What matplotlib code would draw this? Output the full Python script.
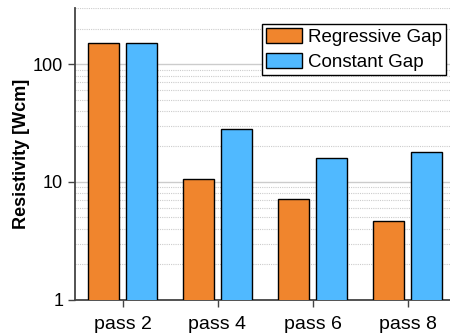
import numpy as np
import matplotlib
matplotlib.use("Agg")
import matplotlib.pyplot as plt
from matplotlib.ticker import LogLocator, NullFormatter

plt.rcParams['font.family'] = ['Liberation Sans', 'DejaVu Sans']

passes = ["pass 2", "pass 4", "pass 6", "pass 8"]
regressive = [152, 10.6, 7.1, 4.7]
constant = [150, 28.4, 15.9, 17.8]

orange = "#F0852D"
blue = "#50B9FF"

fig = plt.figure(figsize=(4.5, 3.36), dpi=100)
ax = fig.add_axes([75 / 450, 1 - 299.7 / 336, 380 / 450, 291.7 / 336])

x = np.arange(len(passes))
w = 0.32
ax.bar(x - 0.2, regressive, w, color=orange, edgecolor="black", linewidth=1,
       label="Regressive Gap", zorder=3)
ax.bar(x + 0.2, constant, w, color=blue, edgecolor="black", linewidth=1,
       label="Constant Gap", zorder=3)

ax.set_yscale("log")
ax.set_ylim(1, 300)
ax.set_xlim(-0.5, 3.5)
ax.set_xticks(x)
ax.set_xticklabels(passes, fontsize=14)
ax.set_yticks([1, 10, 100])
ax.set_yticklabels(["1", "10", "100"], fontsize=13)
ax.yaxis.set_minor_locator(LogLocator(base=10, subs=np.arange(2, 10)))
ax.yaxis.set_minor_formatter(NullFormatter())

ax.grid(axis="y", which="major", color="#cccccc", linewidth=1, zorder=0)
ax.grid(axis="y", which="minor", color="#cccccc", linewidth=0.8,
        linestyle=(0, (1, 1)), zorder=0)

for s in ["top", "right"]:
    ax.spines[s].set_visible(False)
for s in ["left", "bottom"]:
    ax.spines[s].set_color("#444444")
    ax.spines[s].set_linewidth(1.3)
ax.tick_params(axis="both", which="major", length=5, width=1, color="#444444")
ax.tick_params(axis="x", which="major", pad=6.5)
ax.tick_params(axis="y", which="minor", length=0)

ax.set_ylabel("Resistivity [Wcm]", fontsize=13, fontweight="bold", labelpad=2)

leg = ax.legend(loc="upper right", bbox_to_anchor=(0.976, 0.945),
                borderaxespad=0, fontsize=13.5, fancybox=False, framealpha=1,
                edgecolor="black", handlelength=1.9, handleheight=0.9,
                handletextpad=0.35, borderpad=0.2, labelspacing=0.35)
leg.get_frame().set_linewidth(1)

fig.savefig("out.png", dpi=100)
